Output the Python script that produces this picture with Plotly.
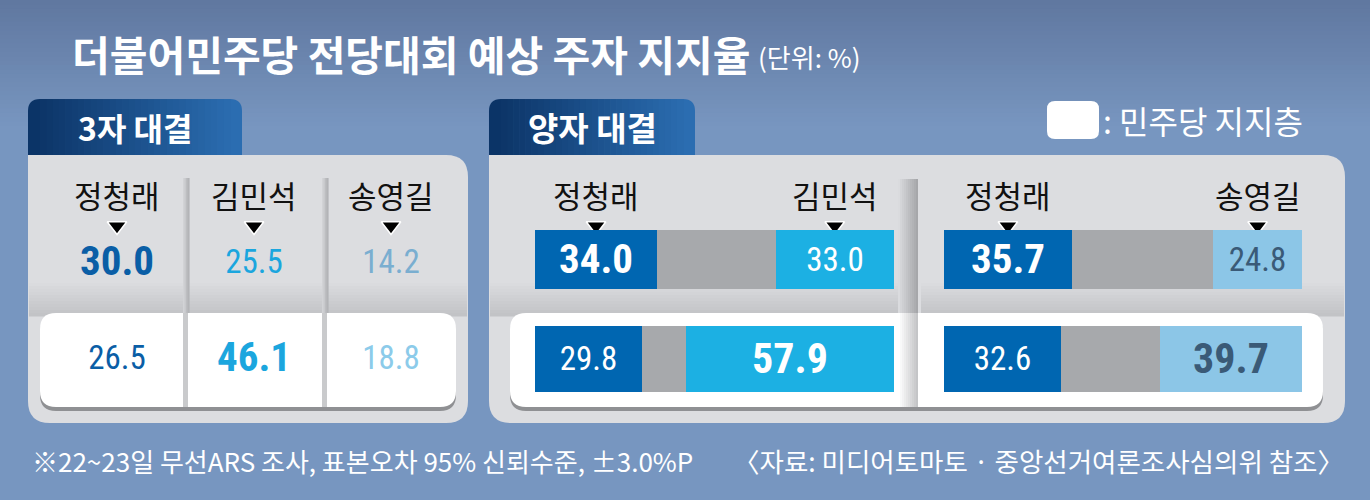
import plotly.graph_objects as go

W, H = 1370, 500

# 3자 대결 (단위: %)
three_names = ['정청래', '김민석', '송영길']
three_all = [30.0, 25.5, 14.2]
three_dem = [26.5, 46.1, 18.8]

# 양자 대결 (단위: %)
pair1_names = ['정청래', '김민석']
pair1_all = [34.0, 33.0]
pair1_dem = [29.8, 57.9]
pair2_names = ['정청래', '송영길']
pair2_all = [35.7, 24.8]
pair2_dem = [32.6, 39.7]

rows = ['전체', '민주당 지지층']

KR = 'Noto Sans CJK KR'
NUM = 'Roboto Condensed, Liberation Sans Narrow, Roboto, sans-serif'

DARK = '#0066b1'
GRAY = '#a7a9ac'
SKY = '#1cb0e3'
PALE = '#8cc6e7'

BIG, SMALL = 41, 33  # 숫자 글자 크기 (굵게 / 보통)


def px(x):
    return x / W


def py(y):
    return 1 - y / H


def mix(c1, c2, t):
    a = [int(c1[i:i + 2], 16) for i in (1, 3, 5)]
    b = [int(c2[i:i + 2], 16) for i in (1, 3, 5)]
    return '#' + ''.join('%02x' % round(a[k] + (b[k] - a[k]) * t) for k in range(3))


def rpath(x0, y0, x1, y1, r, tl=True, tr=True, br=True, bl=True):
    a, b, c, d = (r if tl else 0), (r if tr else 0), (r if br else 0), (r if bl else 0)
    P = lambda x, y: '%.5f,%.5f' % (px(x), py(y))
    return ('M' + P(x0 + a, y0) + ' L' + P(x1 - b, y0) + ' Q' + P(x1, y0) + ' ' + P(x1, y0 + b) +
            ' L' + P(x1, y1 - c) + ' Q' + P(x1, y1) + ' ' + P(x1 - c, y1) +
            ' L' + P(x0 + d, y1) + ' Q' + P(x0, y1) + ' ' + P(x0, y1 - d) +
            ' L' + P(x0, y0 + a) + ' Q' + P(x0, y0) + ' ' + P(x0 + a, y0) + ' Z')


shapes = []


def rect(x0, y0, x1, y1, color):
    shapes.append(dict(type='rect', xref='paper', yref='paper', x0=px(x0), x1=px(x1),
                       y0=py(y1), y1=py(y0), fillcolor=color, line_width=0, layer='below'))


def rounded(x0, y0, x1, y1, r, color, **corners):
    shapes.append(dict(type='path', xref='paper', yref='paper', path=rpath(x0, y0, x1, y1, r, **corners),
                       fillcolor=color, line_width=0, layer='below'))


def vgrad(x0, y0, x1, y1, c1, c2, n=20):
    step = (y1 - y0) / n
    for i in range(n):
        rect(x0, y0 + i * step, x1, y0 + (i + 1) * step + 0.6, mix(c1, c2, i / (n - 1)))


def hgrad(x0, y0, x1, y1, c1, c2, n=20):
    step = (x1 - x0) / n
    for i in range(n):
        rect(x0 + i * step, y0, x0 + (i + 1) * step + 0.6, y1, mix(c1, c2, i / (n - 1)))


# background
vgrad(0, 0, W, 130, '#6078a0', '#7896c0', 30)


def tab(x0, x1):
    rounded(x0, 99, x0 + 24, 157, 12, '#0b3467', tr=False, br=False, bl=False)
    rounded(x1 - 24, 99, x1, 157, 12, '#2b6db1', tl=False, br=False, bl=False)
    hgrad(x0 + 12, 99, x1 - 12, 157, '#0d3669', '#2a6bae', 30)


def panel(x0, x1):
    rounded(x0, 155, x1, 423, 22, '#dcdde0', tl=False)
    vgrad(x0 + 1, 280, x1 - 1, 316, '#dcdde0', '#c2c3c6', 12)


tab(28, 242)
tab(489, 695)
panel(28, 468)
panel(489, 1345)

# left column dividers (upper part)
for dx in (183, 322):
    hgrad(dx, 178, dx + 6, 313, '#d2d3d6', '#b3b4b7', 4)

# white boxes (민주당 지지층 row)
rounded(40, 317, 456, 411, 16, '#8f9093')
rounded(40, 313, 456, 407, 16, '#ffffff')
rounded(510, 317, 1323, 411, 16, '#8f9093')
rounded(510, 313, 1323, 407, 16, '#ffffff')

for dx in (183, 322):
    rect(dx, 313, dx + 5, 407, '#c9cacc')

# right panel divider
hgrad(898, 179, 918, 313, '#dadbde', '#a6a7aa', 10)
hgrad(898, 313, 918, 407, '#ffffff', '#c4c5c7', 10)
rect(918, 179, 921, 313, '#dcdde0')
rect(918, 313, 921, 407, '#ffffff')

# legend box
rounded(1047, 101, 1099, 139, 8, '#ffffff')

fig = go.Figure()

tri = dict(symbol='triangle-down', size=17, color='black', line=dict(color='white', width=1.5))

# bar groups
groups = [
    ('x2', 'y2', pair1_names, pair1_all, pair1_dem, SKY, 'white'),
    ('x3', 'y3', pair2_names, pair2_all, pair2_dem, PALE, '#3a5a77'),
]
bar_w = [0.593, 0.663]
for xa, ya, names, v_all, v_dem, rcol, rtxt in groups:
    left = [v_all[0], v_dem[0]]
    right = [v_all[1], v_dem[1]]
    rest = [round(100 - l - r, 1) for l, r in zip(left, right)]
    lbold = [l > r for l, r in zip(left, right)]
    ltext = ['<b>%.1f</b>' % v if b else '%.1f' % v for v, b in zip(left, lbold)]
    rtext = ['%.1f' % v if b else '<b>%.1f</b>' % v for v, b in zip(right, lbold)]
    fig.add_trace(go.Bar(
        y=rows, x=left, orientation='h', marker=dict(color=DARK, line_width=0), width=bar_w,
        text=ltext, textposition='inside', insidetextanchor='middle', constraintext='none',
        textangle=0, textfont=dict(family=NUM, color='white', size=[BIG if b else SMALL for b in lbold]),
        xaxis=xa, yaxis=ya, hoverinfo='skip'))
    fig.add_trace(go.Bar(
        y=rows, x=rest, orientation='h', marker=dict(color=GRAY, line_width=0), width=bar_w,
        xaxis=xa, yaxis=ya, hoverinfo='skip'))
    fig.add_trace(go.Bar(
        y=rows, x=right, orientation='h', marker=dict(color=rcol, line_width=0), width=bar_w,
        text=rtext, textposition='inside', insidetextanchor='middle', constraintext='none',
        textangle=0, textfont=dict(family=NUM, color=rtxt, size=[SMALL if b else BIG + 1 for b in lbold]),
        xaxis=xa, yaxis=ya, hoverinfo='skip'))
    # name headers and pointers centred over the 전체 segments
    pos = [v_all[0] / 2, 100 - v_all[1] / 2]
    fig.add_trace(go.Scatter(
        x=pos, y=[226, 226], mode='markers', xaxis=xa, yaxis='y', cliponaxis=False,
        marker=tri, hoverinfo='skip'))
    for p, nm in zip(pos, names):
        fig.add_annotation(x=p, xref=xa, y=py(194), yref='paper', text=nm, showarrow=False,
                           font=dict(family=KR, size=31, color='#111111'))

# 3자 대결 table
tab_text, tab_size, tab_color = [], [], []
row_colors = [['#0a5ea6', '#1ba6de', '#7aaed0'], ['#0a5ea6', '#1ba6de', '#8ccbea']]
for ri, vals in enumerate([three_all, three_dem]):
    top = max(vals)
    for ci, v in enumerate(vals):
        tab_text.append('<b>%.1f</b>' % v if v == top else '%.1f' % v)
        tab_size.append(BIG if v == top else SMALL)
        tab_color.append(row_colors[ri][ci])
fig.add_trace(go.Scatter(
    x=three_names * 2, y=[rows[0]] * 3 + [rows[1]] * 3, mode='text', text=tab_text,
    textposition='middle center', textfont=dict(family=NUM, size=tab_size, color=tab_color),
    xaxis='x4', yaxis='y4', hoverinfo='skip', cliponaxis=False))
fig.add_trace(go.Scatter(
    x=three_names, y=[226] * 3, mode='markers', xaxis='x4', yaxis='y', cliponaxis=False,
    marker=tri, hoverinfo='skip'))
for nm in three_names:
    fig.add_annotation(x=nm, xref='x4', y=py(194), yref='paper', text=nm, showarrow=False,
                       font=dict(family=KR, size=31, color='#111111'))

# titles and notes
texts = [
    (70, 53, '<b>더불어민주당 전당대회 예상 주자 지지율</b>', 41, 'left'),
    (756, 57, '(단위: %)', 26, 'left'),
    (135, 127, '<b>3자 대결</b>', 32, 'center'),
    (592, 127, '<b>양자 대결</b>', 33, 'center'),
    (1101, 120, ': 민주당 지지층', 32, 'left'),
    (30, 460, '※22~23일 무선ARS 조사, 표본오차 95% 신뢰수준, ±3.0%P', 26, 'left'),
    (1346, 460, '〈자료: 미디어토마토 · 중앙선거여론조사심의위 참조〉', 26.5, 'right'),
]
for x, y, t, s, anc in texts:
    fig.add_annotation(x=px(x), y=py(y), xref='paper', yref='paper', text=t, showarrow=False,
                       xanchor=anc, yanchor='middle', font=dict(family=KR, size=s, color='white'))

hidden = dict(visible=False, showgrid=False, zeroline=False, fixedrange=True)
fig.update_layout(
    width=W, height=H, margin=dict(l=0, r=0, t=0, b=0),
    paper_bgcolor='#7796c0', plot_bgcolor='rgba(0,0,0,0)',
    barmode='stack', bargap=0, showlegend=False, hovermode=False,
    shapes=shapes,
    xaxis=dict(range=[0, W], domain=[0, 1], **hidden),
    yaxis=dict(range=[H, 0], domain=[0, 1], **hidden),
    xaxis2=dict(range=[0, 100], domain=[px(535), px(894)], anchor='y2', **hidden),
    yaxis2=dict(type='category', range=[1.5, -0.5], domain=[py(408.75), py(209.75)], anchor='x2', **hidden),
    xaxis3=dict(range=[0, 100], domain=[px(944), px(1302)], anchor='y3', **hidden),
    yaxis3=dict(type='category', range=[1.5, -0.5], domain=[py(408.75), py(209.75)], anchor='x3', **hidden),
    xaxis4=dict(type='category', range=[-0.5, 2.5], domain=[px(48.5), px(459.5)], anchor='y4', **hidden),
    yaxis4=dict(type='category', range=[1.5, -0.5], domain=[py(409), py(217)], anchor='x4', **hidden),
)

# 페이지 기본 여백 제거 (창 크기와 그림 크기를 맞춤)
fig.write_html('out.html', config={'displayModeBar': False},
               post_script="document.body.style.margin='0';")
